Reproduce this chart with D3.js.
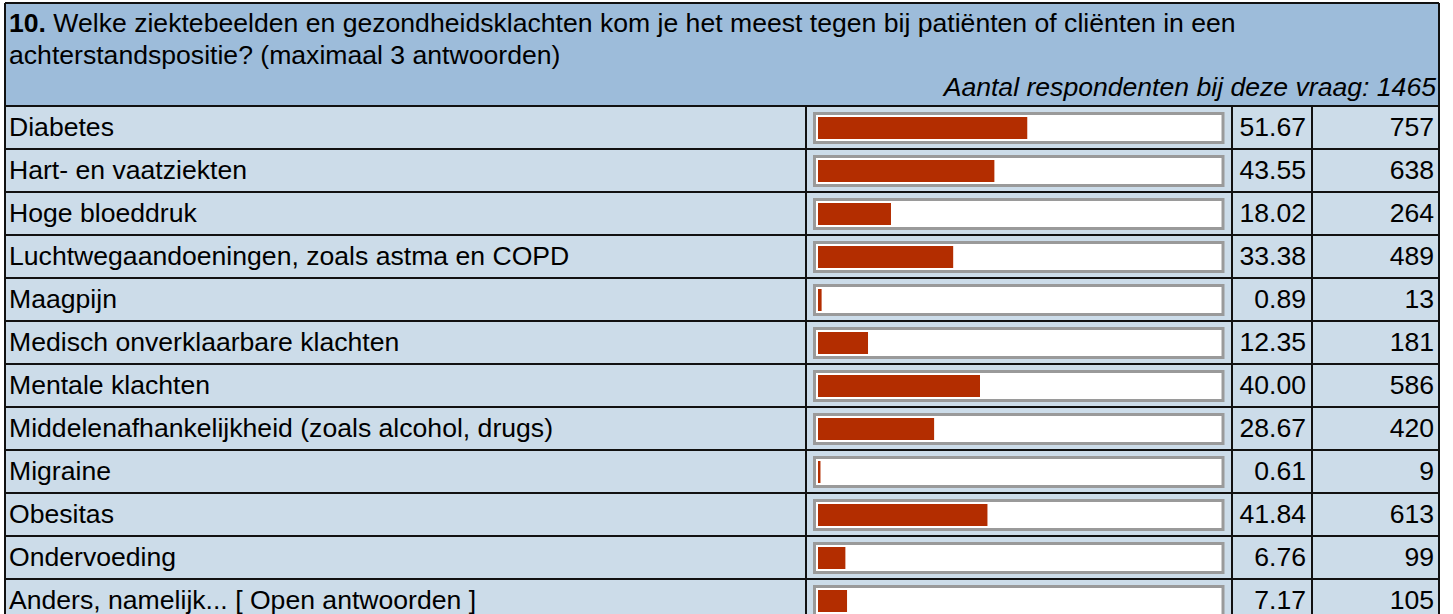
<!DOCTYPE html>
<html>
<head>
<meta charset="utf-8">
<script src="https://cdn.jsdelivr.net/npm/d3@7"></script>
<style>
  body { margin: 0; background: #fff; }
  svg { display: block; font-family: Arial, "Liberation Sans", sans-serif; }
</style>
</head>
<body>
<div id="chart"></div>
<script>
// question text and answers
const questionNr = "10.";
const questionLines = [
  " Welke ziektebeelden en gezondheidsklachten kom je het meest tegen bij patiënten of cliënten in een",
  "achterstandspositie? (maximaal 3 antwoorden)"
];
const respondentsText = "Aantal respondenten bij deze vraag: 1465";

const categories = [
  "Diabetes",
  "Hart- en vaatziekten",
  "Hoge bloeddruk",
  "Luchtwegaandoeningen, zoals astma en COPD",
  "Maagpijn",
  "Medisch onverklaarbare klachten",
  "Mentale klachten",
  "Middelenafhankelijkheid (zoals alcohol, drugs)",
  "Migraine",
  "Obesitas",
  "Ondervoeding",
  "Anders, namelijk... [ Open antwoorden ]"
];
const percents = [51.67, 43.55, 18.02, 33.38, 0.89, 12.35, 40.00, 28.67, 0.61, 41.84, 6.76, 7.17];
const counts = [757, 638, 264, 489, 13, 181, 586, 420, 9, 613, 99, 105];

var W = 1453, H = 614;
var mLeft = 5, mRight = 1439, mTop = 3, headerBottom = 106, rowH = 43;
var colBar = 806, colPct = 1232, colCnt = 1312;
var fs = 26.6;

var svg = d3.select("#chart").append("svg")
    .attr("width", W).attr("height", H);

var rows = categories.map((c, i) => ({ label: c, pct: percents[i], n: counts[i] }));

var y = d3.scaleBand()
    .domain(d3.range(rows.length))
    .range([headerBottom, headerBottom + rowH * rows.length])
    .padding(0);

// 0..100% over the white area of the bar box
var x = d3.scaleLinear().domain([0, 100]).range([818, 1223]);

// header
svg.append("rect")
   .attr("x", mLeft).attr("y", mTop)
   .attr("width", mRight - mLeft).attr("height", headerBottom - mTop)
   .attr("fill", "#9dbcda");

var q = svg.append("text")
   .attr("x", mLeft + 4).attr("y", 32)
   .attr("font-size", fs).attr("fill", "#000");
q.append("tspan").attr("font-weight", "bold").text(questionNr);
q.append("tspan").text(questionLines[0]);

svg.append("text")
   .attr("x", mLeft + 4).attr("y", 64)
   .attr("font-size", fs)
   .text(questionLines[1]);

svg.append("text")
   .attr("x", mRight - 3).attr("y", 96)
   .attr("font-size", fs).attr("font-style", "italic")
   .attr("text-anchor", "end")
   .text(respondentsText);

// rows
var row = svg.selectAll("g.row")
    .data(rows).enter()
    .append("g")
    .attr("class", "row")
    .attr("transform", (d, i) => "translate(0," + y(i) + ")");

row.append("rect")
   .attr("x", mLeft).attr("y", 0)
   .attr("width", mRight - mLeft).attr("height", y.bandwidth())
   .attr("fill", "#ccdce9");

row.append("text")
   .attr("x", mLeft + 4).attr("y", 30)
   .attr("font-size", fs)
   .text(d => d.label);

// bar box
row.append("rect")
   .attr("x", 814.5).attr("y", 7.5)
   .attr("width", 408.5).attr("height", 29)
   .attr("fill", "#fff")
   .attr("stroke", "#9a9a9a").attr("stroke-width", 3);

row.append("rect")
   .attr("x", x(0)).attr("y", 11)
   .attr("width", d => x(d.pct) - x(0)).attr("height", 22)
   .attr("fill", "#b32d00");

row.append("text")
   .attr("x", colCnt - 6).attr("y", 30)
   .attr("font-size", fs).attr("text-anchor", "end")
   .text(d => d.pct.toFixed(2));

row.append("text")
   .attr("x", mRight - 5).attr("y", 30)
   .attr("font-size", fs).attr("text-anchor", "end")
   .text(d => d.n);

// grid lines
var lines = svg.append("g").attr("stroke", "#111").attr("stroke-width", 2);
d3.range(rows.length + 1).forEach(function(i) {
  var yy = headerBottom + i * rowH;
  lines.append("line").attr("x1", mLeft).attr("x2", mRight).attr("y1", yy).attr("y2", yy);
});
[colBar, colPct, colCnt].forEach(function(cx) {
  lines.append("line").attr("x1", cx).attr("x2", cx)
       .attr("y1", headerBottom).attr("y2", headerBottom + rows.length * rowH);
});
// outer frame
lines.append("line").attr("x1", mLeft).attr("x2", mLeft).attr("y1", mTop).attr("y2", H + 10);
lines.append("line").attr("x1", mRight).attr("x2", mRight).attr("y1", mTop).attr("y2", H + 10);
lines.append("line").attr("x1", mLeft).attr("x2", mRight).attr("y1", mTop).attr("y2", mTop);
</script>
</body>
</html>
